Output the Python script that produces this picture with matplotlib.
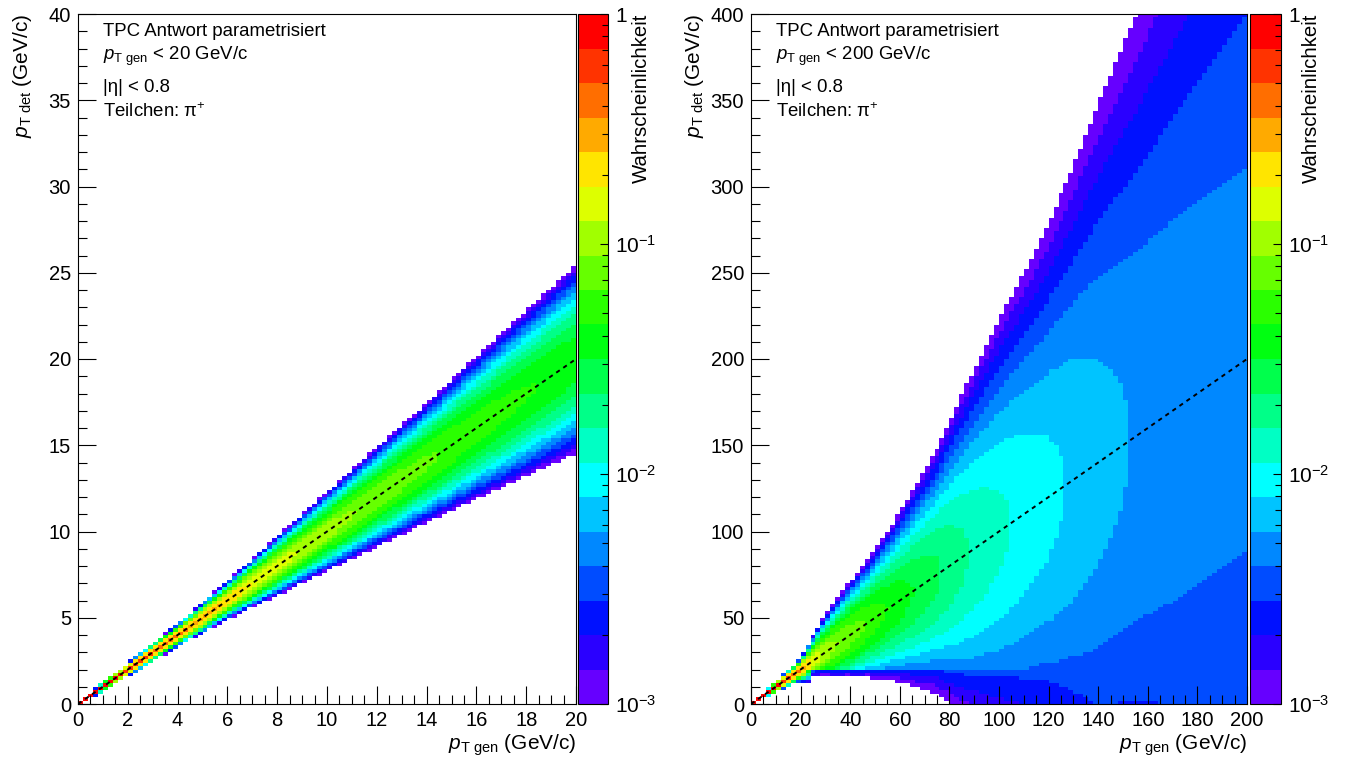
import math
import numpy as np
import matplotlib
matplotlib.use("Agg")
import matplotlib.pyplot as plt
from matplotlib.colors import ListedColormap, LogNorm
from matplotlib.ticker import MultipleLocator, LogLocator, NullFormatter

plt.rcParams['font.family'] = ['Liberation Sans', 'DejaVu Sans']
plt.rcParams['mathtext.fontset'] = 'custom'
plt.rcParams['mathtext.rm'] = 'Liberation Sans'
plt.rcParams['mathtext.it'] = 'Liberation Sans:italic'
plt.rcParams['mathtext.bf'] = 'Liberation Sans:bold'

# ---------------- data ----------------
palette = ['#6600ff', '#2a00ff', '#0011ff', '#004cff', '#0088ff', '#00c4ff',
           '#00ffff', '#00ffc4', '#00ff88', '#00ff4c', '#00ff11', '#2aff00',
           '#66ff00', '#a1ff00', '#ddff00', '#ffe500', '#ffaa00', '#ff6e00',
           '#ff3300', '#ff0000']
prob_min, prob_max = 1e-3, 1.0

# binning of the two response matrices (GeV/c)
left_x_max, left_y_max, left_bin = 20.0, 40.0, 0.2
right_x_max, right_y_max, right_bin = 200.0, 400.0, 2.0

# resolution: sigma(pT det) vs pT gen
res_pt_knots = [0, 2, 4, 6, 10, 14, 20, 30, 40, 48, 60, 75, 100, 116, 128, 155, 200]
res_sigma_knots = [0, 0.1, 0.19, 0.33, 0.75, 1.2, 2.0, 7.0, 10.5, 13, 19, 29, 55, 71, 87, 132, 201]
# mean of pT det / pT gen
mean_pt_knots = [0, 200]
mean_ratio_knots = [1.0, 1.0]
# overall scale of the probability per column
scale_pt_knots = [0, 40, 60, 88, 116, 155, 200]
scale_knots = [1.0, 1.0, 0.9, 0.83, 0.79, 0.8, 0.98]
# suppression below pT det = 20 GeV/c (right panel)
floor_y = 20.0
floor_pt_knots = [0, 21, 24, 30, 40, 50, 60, 75, 100, 120, 138, 200]
floor_supp_knots = [1, 1, 0.05, 0.06, 0.2, 0.45, 0.6, 0.7, 0.75, 0.85, 1.0, 1.0]

left_xticks = [0, 2, 4, 6, 8, 10, 12, 14, 16, 18, 20]
left_yticks = [0, 5, 10, 15, 20, 25, 30, 35, 40]
right_xticks = [0, 20, 40, 60, 80, 100, 120, 140, 160, 180, 200]
right_yticks = [0, 50, 100, 150, 200, 250, 300, 350, 400]
cbar_ticks = [1e-3, 1e-2, 1e-1, 1.0]
cbar_labels = [r'$10^{-3}$', r'$10^{-2}$', r'$10^{-1}$', '1']

x_title = r'$\mathit{p}_{\mathrm{T\ gen}}$ (GeV/c)'
y_title = r'$\mathit{p}_{\mathrm{T\ det}}$ (GeV/c)'
z_title = 'Wahrscheinlichkeit'
left_info = ['TPC Antwort parametrisiert', r'$\mathit{p}_{\mathrm{T\ gen}}$ < 20 GeV/c',
             '|η| < 0.8', 'Teilchen: π$^{+}$']
right_info = ['TPC Antwort parametrisiert', r'$\mathit{p}_{\mathrm{T\ gen}}$ < 200 GeV/c',
              '|η| < 0.8', 'Teilchen: π$^{+}$']

# ---------------- computation ----------------
_erf = np.vectorize(math.erf)


def Phi(z):
    return 0.5 * (1.0 + _erf(np.asarray(z) / math.sqrt(2.0)))


def response(x_max, y_max, width, with_floor):
    x_edges = np.arange(0, x_max + width / 2, width)
    y_edges = np.arange(0, y_max + width / 2, width)
    xc = 0.5 * (x_edges[:-1] + x_edges[1:])
    yc = 0.5 * (y_edges[:-1] + y_edges[1:])
    sig = np.maximum(np.interp(xc, res_pt_knots, res_sigma_knots), 1e-4)
    mu = xc * np.interp(xc, mean_pt_knots, mean_ratio_knots)
    scale = np.interp(xc, scale_pt_knots, scale_knots)
    lo = (y_edges[:-1][:, None] - mu[None, :]) / sig[None, :]
    hi = (y_edges[1:][:, None] - mu[None, :]) / sig[None, :]
    norm = 1.0 - Phi(-mu / sig)
    P = (Phi(hi) - Phi(lo)) / norm[None, :] * scale[None, :]
    if with_floor:
        supp = np.interp(xc, floor_pt_knots, floor_supp_knots)
        P = np.where(yc[:, None] < floor_y, P * supp[None, :], P)
    P = np.minimum(P, 0.999)
    return x_edges, y_edges, np.ma.masked_less(P, prob_min)


cmap = ListedColormap(palette)
cmap.set_bad((1, 1, 1, 0))
norm = LogNorm(vmin=prob_min, vmax=prob_max)

W, H = 1346, 769
fig = plt.figure(figsize=(W / 100, H / 100), dpi=100)


def fx(px):
    return px / W


def fy(py):
    return 1 - py / H


panels = [
    dict(ax=(78, 576), cb=(578, 608), zt=641, xmax=left_x_max, ymax=left_y_max, w=left_bin,
         floor=False, xt=left_xticks, yt=left_yticks, xmin=0.5, ymin=1.0, info=left_info),
    dict(ax=(751, 1247), cb=(1250, 1281), zt=1311, xmax=right_x_max, ymax=right_y_max,
         w=right_bin, floor=True, xt=right_xticks, yt=right_yticks, xmin=5, ymin=10,
         info=right_info),
]
top, bottom = 14, 704

for p in panels:
    x0, x1 = p['ax']
    ax = fig.add_axes([fx(x0), fy(bottom), fx(x1 - x0), (bottom - top) / H])
    xe, ye, P = response(p['xmax'], p['ymax'], p['w'], p['floor'])
    pcm = ax.pcolormesh(xe, ye, P, cmap=cmap, norm=norm, shading='flat',
                        rasterized=True, zorder=1)
    diag = np.array([0, p['xmax']])
    ax.plot(diag, diag, color='black', lw=1.4, dashes=(2.2, 2.2), zorder=3)
    ax.set_xlim(0, p['xmax'])
    ax.set_ylim(0, p['ymax'])
    ax.set_xticks(p['xt'])
    ax.set_yticks(p['yt'])
    ax.xaxis.set_minor_locator(MultipleLocator(p['xmin']))
    ax.yaxis.set_minor_locator(MultipleLocator(p['ymin']))
    ax.tick_params(which='major', direction='in', length=13, width=0.8,
                   labelsize=14.5, top=False, right=False, pad=5)
    ax.tick_params(which='minor', direction='in', length=6.5, width=0.8,
                   top=False, right=False)
    for s in ax.spines.values():
        s.set_linewidth(0.8)
    ax.spines['right'].set_zorder(0.5)
    ax.text(1.0, -0.06, x_title, transform=ax.transAxes, ha='right', va='center',
            fontsize=15)
    ax.text(-56.0 / (x1 - x0), 1.0, y_title, transform=ax.transAxes,
            rotation=90, ha='center', va='top', fontsize=15)
    ys = [31, 56, 87, 112]
    for t, yy in zip(p['info'], ys):
        ax.text(0.05, (bottom - yy) / (bottom - top), t, transform=ax.transAxes,
                ha='left', va='center', fontsize=13.4)

    c0, c1 = p['cb']
    cax = fig.add_axes([fx(c0), fy(bottom), fx(c1 - c0), (bottom - top) / H])
    cb = fig.colorbar(pcm, cax=cax)
    cb.outline.set_linewidth(0.8)
    cax.yaxis.set_ticks_position('right')
    cax.set_yticks(cbar_ticks)
    cax.set_yticklabels(cbar_labels)
    cax.yaxis.set_minor_locator(LogLocator(base=10, subs=np.arange(2, 10)))
    cax.yaxis.set_minor_formatter(NullFormatter())
    cax.tick_params(which='major', direction='in', length=6, width=0.8,
                    labelsize=15, pad=5)
    cax.tick_params(which='minor', direction='in', length=4, width=0.8)
    cax.text((p['zt'] - c0) / (c1 - c0), 1.0, z_title, transform=cax.transAxes,
             rotation=90, ha='center', va='top', fontsize=14.7)

fig.savefig('out.png', dpi=100)
